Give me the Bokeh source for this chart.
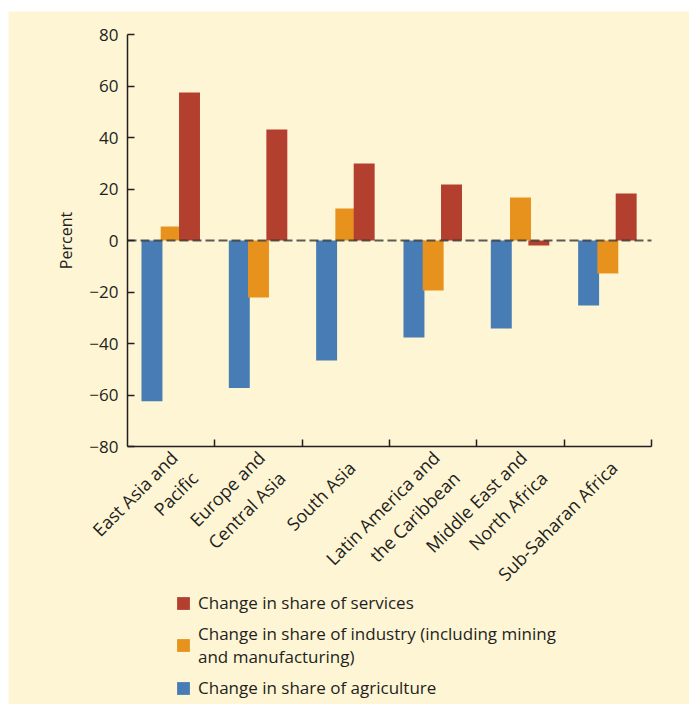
import math
from bokeh.plotting import figure
from bokeh.models import (ColumnDataSource, Range1d, FixedTicker, Legend,
                          LegendItem, Spacer, Label)
from bokeh.layouts import column, row
from bokeh.transform import dodge
from bokeh.embed import file_html
from bokeh.resources import INLINE

# ---- data ----
regions = ["East Asia and\nPacific", "Europe and\nCentral Asia", "South Asia",
           "Latin America and\nthe Caribbean", "Middle East and\nNorth Africa",
           "Sub-Saharan Africa"]
agriculture = [-62.4, -57.3, -46.6, -37.7, -34.2, -25.2]
industry = [5.4, -22.1, 12.4, -19.4, 16.7, -12.8]
services = [57.5, 43.1, 29.9, 21.7, -1.9, 18.3]
y_ticks = [-80, -60, -40, -20, 0, 20, 40, 60, 80]
y_tick_labels = ["\u221280", "\u221260", "\u221240", "\u221220", "0", "20", "40", "60", "80"]
y_min, y_max = -80, 80
series_labels = ["Change in share of services",
                 "Change in share of industry (including mining\nand manufacturing)",
                 "Change in share of agriculture"]

BG = "#FEF5D5"
INK = "#231F20"
C_AGR = "#477CB4"
C_IND = "#E7921C"
C_SER = "#B3402E"
FONT = "Open Sans"

# layout geometry (pixels, relative to the figure)
FIG_W, FIG_H = 681, 693
AX_LEFT, AX_RIGHT = 119, 643      # x pixel of the y axis and of the x-axis end
AX_TOP, AX_BOTTOM = 23, 435       # y pixel of the 80 and -80 ticks
n = len(regions)
px_per_x = (AX_RIGHT - AX_LEFT) / n
px_per_y = (AX_BOTTOM - AX_TOP) / (y_max - y_min)
x_start = -AX_LEFT / px_per_x
x_end = n + (FIG_W - AX_RIGHT) / px_per_x
y_end = y_max + AX_TOP / px_per_y
y_start = y_min - (FIG_H - AX_BOTTOM) / px_per_y

centers = [i + 0.5 for i in range(n)]
boundaries = [i + 1 for i in range(n)]
label_pos = [c + (0.15 if "\n" in r else 0.07) for c, r in zip(centers, regions)]

src = ColumnDataSource(dict(x=centers, agr=agriculture, ind=industry, ser=services))

p = figure(width=FIG_W, height=FIG_H, x_range=Range1d(x_start, x_end),
           y_range=Range1d(y_start, y_end), output_backend="svg", toolbar_location=None,
           title=None, min_border=0, background_fill_color=BG, border_fill_color=BG,
           outline_line_color=None)
p.grid.visible = False

r_agr = p.vbar(x=dodge("x", -0.22, range=p.x_range), top="agr", bottom=0, width=0.24,
               source=src, fill_color=C_AGR, line_color=None)
r_ind = p.vbar(x=dodge("x", 0.0, range=p.x_range), top="ind", bottom=0, width=0.24,
               source=src, fill_color=C_IND, line_color=None)
r_ser = p.vbar(x=dodge("x", 0.21, range=p.x_range), top="ser", bottom=0, width=0.24,
               source=src, fill_color=C_SER, line_color=None)

# dashed zero line across the category span
p.segment(x0=[0], x1=[n], y0=[0], y1=[0], line_color="#333333", line_alpha=0.8,
          line_width=2, line_dash="9 4")

# y axis, drawn at x = 0
ya = p.yaxis[0]
ya.fixed_location = 0
ya.ticker = FixedTicker(ticks=y_ticks)
ya.bounds = (y_min, y_max)
ya.major_label_overrides = {t: l for t, l in zip(y_ticks, y_tick_labels)}
ya.minor_tick_line_color = None
ya.major_tick_in = 7
ya.major_tick_out = 0
ya.major_label_standoff = 9

p.add_layout(Label(x=0, y=(y_min + y_max) / 2, x_offset=-62, text="Percent",
                   angle=math.pi / 2, text_align="center", text_baseline="middle",
                   text_font=FONT, text_font_size="16px", text_color=INK))

# x axis, drawn at y = -80
xa = p.xaxis[0]
xa.fixed_location = y_min
xa.bounds = (0, n)
xa.ticker = FixedTicker(ticks=label_pos, minor_ticks=boundaries)
xa.major_label_overrides = {c: r for c, r in zip(label_pos, regions)}
xa.major_tick_in = 0
xa.major_tick_out = 0
xa.minor_tick_in = 7
xa.minor_tick_out = 0
xa.major_label_orientation = math.pi / 4
xa.major_label_standoff = 18

for ax in (xa, ya):
    ax.axis_line_color = INK
    ax.axis_line_width = 1.5
    ax.major_tick_line_color = INK
    ax.major_tick_line_width = 1.5
    ax.minor_tick_line_width = 1.5
    ax.major_label_text_font = FONT
    ax.major_label_text_color = INK
ya.major_label_text_font_size = "17px"
xa.major_label_text_font_size = "18px"
xa.minor_tick_line_color = INK

legend = Legend(items=[LegendItem(label=series_labels[0], renderers=[r_ser]),
                       LegendItem(label=series_labels[1], renderers=[r_ind]),
                       LegendItem(label=series_labels[2], renderers=[r_agr])],
                location=(167, 5), orientation="vertical",
                padding=0, margin=0, spacing=8,
                glyph_width=16, glyph_height=16, label_standoff=7,
                label_text_font=FONT, label_text_font_size="17px",
                label_text_color=INK, label_text_line_height=1.4,
                border_line_alpha=0, background_fill_alpha=0)
p.add_layout(legend, "center")

layout = row(Spacer(width=8, height=FIG_H), column(Spacer(width=FIG_W, height=11), p))
open("out.html", "w").write(file_html(layout, INLINE))
